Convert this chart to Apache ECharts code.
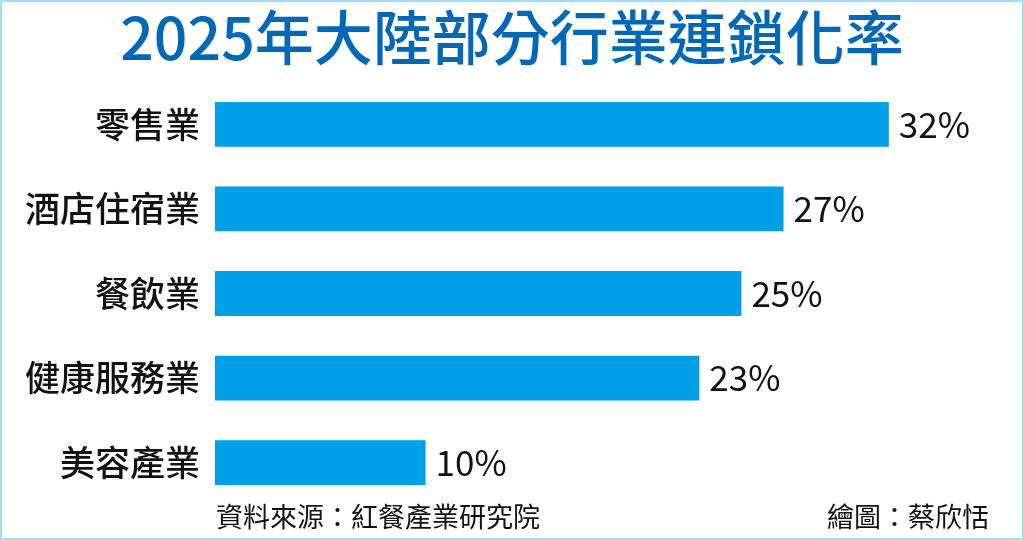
<!DOCTYPE html>
<html><head><meta charset="utf-8">
<script src="https://cdn.jsdelivr.net/npm/echarts@6/dist/echarts.min.js"></script>
<style>html,body{margin:0;padding:0;background:#fff}#c{width:1024px;height:540px}</style>
</head><body><div id="c"></div>
<script>
const titleText = '2025年大陸部分行業連鎖化率';
const categories = ['零售業','酒店住宿業','餐飲業','健康服務業','美容產業'];
const values = [32, 27, 25, 23, 10];
const sourceText = '資料來源：紅餐產業研究院';
const creditText = '繪圖：蔡欣恬';

const FONT = '"Noto Sans CJK TC", "Noto Sans", sans-serif';
const chart = echarts.init(document.getElementById('c'), null, {renderer:'canvas'});
chart.setOption({
  backgroundColor:'#ffffff',
  animation:false,
  title:{text:titleText,left:'center',top:3,
    textStyle:{fontFamily:FONT,fontSize:59,fontWeight:500,color:'#0068b7'}},
  grid:{left:215,right:72,top:82,bottom:35,containLabel:false},
  xAxis:{type:'value',min:0,max:35,show:false},
  yAxis:{type:'category',data:categories,inverse:true,
    axisLine:{show:false},axisTick:{show:false},splitLine:{show:false},
    axisLabel:{fontFamily:FONT,fontSize:35,fontWeight:500,color:'#111',margin:15}},
  series:[{type:'bar',data:values,barWidth:'53%',
    itemStyle:{color:'#00a0e9'},
    label:{show:true,position:'right',distance:10,formatter:'{c}%',
      fontFamily:FONT,fontSize:35,color:'#111'}}],
  graphic:[
    {type:'rect',shape:{x:1,y:1,width:1022,height:538},style:{fill:'none',stroke:'#a6dcf5',lineWidth:2},silent:true},
    {type:'text',left:216,top:503,style:{text:sourceText,fontFamily:FONT,fontSize:27,fill:'#111'}},
    {type:'text',right:35,top:503,style:{text:creditText,fontFamily:FONT,fontSize:27,fill:'#111'}}
  ]
});
</script></body></html>
